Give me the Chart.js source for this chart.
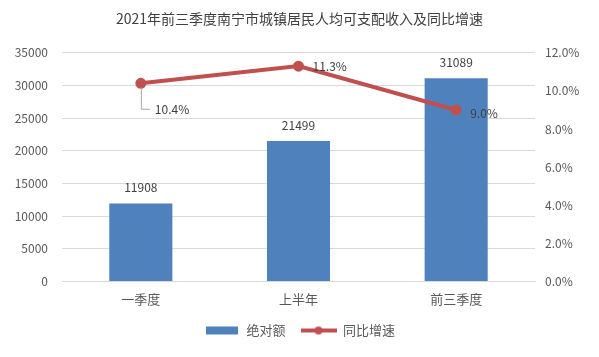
<!DOCTYPE html>
<html>
<head>
<meta charset="utf-8">
<script src="https://cdn.jsdelivr.net/npm/chart.js@4/dist/chart.umd.min.js"></script>
<style>
    html, body { margin: 0; padding: 0; background: #ffffff; }
    #wrap { width: 599px; height: 357px; }
</style>
</head>
<body>
<div id="wrap"><canvas id="chart"></canvas></div>
<script>
// ===== data =====
const categories = ['一季度', '上半年', '前三季度'];
const incomeValues = [11908, 21499, 31089];
const growthValues = [10.4, 11.3, 9.0];
const leftTicks = [0, 5000, 10000, 15000, 20000, 25000, 30000, 35000];
const rightTicks = [0, 2, 4, 6, 8, 10, 12];

const FONT = "'Microsoft YaHei', 'Noto Sans CJK SC', sans-serif";
const TEXT = '#595959';
const BLUE = '#4f81bd';
const RED = '#c0504d';

// legend swatches drawn on small canvases
function makeSwatch(kind) {
    const c = document.createElement('canvas');
    c.width = 36;
    c.height = 10;
    const g = c.getContext('2d');
    if (kind === 'bar') {
        g.fillStyle = BLUE;
        g.fillRect(2, 1, 32, 8);
    } else {
        g.strokeStyle = RED;
        g.lineWidth = 4;
        g.beginPath();
        g.moveTo(0, 5);
        g.lineTo(36, 5);
        g.stroke();
        g.fillStyle = RED;
        g.beginPath();
        g.arc(18, 5, 4, 0, Math.PI * 2);
        g.fill();
    }
    return c;
}

// labels on bars and line points
const labelPlugin = {
    id: 'valueLabels',
    afterDatasetsDraw(chart) {
        const ctx = chart.ctx;
        ctx.save();
        ctx.font = '12px ' + FONT;
        ctx.fillStyle = '#404040';

        const bars = chart.getDatasetMeta(0).data;
        ctx.textAlign = 'center';
        ctx.textBaseline = 'middle';
        bars.forEach((bar, i) => {
            ctx.fillText(String(incomeValues[i]), bar.x, bar.y - 16);
        });

        const pts = chart.getDatasetMeta(1).data;
        ctx.textAlign = 'left';
        pts.forEach((p, i) => {
            const txt = growthValues[i].toFixed(1) + '%';
            if (i === 0) {
                ctx.strokeStyle = '#a6a6a6';
                ctx.lineWidth = 1;
                ctx.beginPath();
                ctx.moveTo(p.x + 0.5, p.y + 4);
                ctx.lineTo(p.x + 0.5, p.y + 26);
                ctx.lineTo(p.x + 9, p.y + 26);
                ctx.stroke();
                ctx.fillText(txt, p.x + 14, p.y + 26);
            } else if (i === 1) {
                ctx.fillText(txt, p.x + 14, p.y);
            } else {
                ctx.fillText(txt, p.x + 14, p.y + 3);
            }
        });
        ctx.restore();
    }
};

new Chart(document.getElementById('chart'), {
    data: {
        labels: categories,
        datasets: [
            {
                type: 'bar',
                label: '绝对额',
                data: incomeValues,
                backgroundColor: BLUE,
                yAxisID: 'y',
                barPercentage: 0.8,
                categoryPercentage: 0.5,
                order: 2
            },
            {
                type: 'line',
                label: '同比增速',
                data: growthValues,
                borderColor: RED,
                backgroundColor: RED,
                borderWidth: 4,
                pointRadius: 3.5,
                pointBackgroundColor: RED,
                pointBorderColor: RED,
                yAxisID: 'y1',
                order: 1
            }
        ]
    },
    options: {
        responsive: true,
        maintainAspectRatio: false,
        animation: false,
        layout: { padding: { top: 3, bottom: 10, left: 0, right: 0 } },
        plugins: {
            title: {
                display: true,
                text: '2021年前三季度南宁市城镇居民人均可支配收入及同比增速',
                color: '#404040',
                font: { size: 14, family: FONT, weight: 'normal' },
                padding: { top: 7, bottom: 26 }
            },
            legend: {
                position: 'bottom',
                labels: {
                    color: TEXT,
                    font: { size: 13, family: FONT },
                    usePointStyle: true,
                    pointStyleWidth: 36,
                    padding: 15,
                    generateLabels() {
                        return [
                            { text: '绝对额', pointStyle: makeSwatch('bar'), fillStyle: BLUE, strokeStyle: BLUE, lineWidth: 0, datasetIndex: 0, fontColor: TEXT },
                            { text: '同比增速', pointStyle: makeSwatch('line'), fillStyle: RED, strokeStyle: RED, lineWidth: 0, datasetIndex: 1, fontColor: TEXT }
                        ];
                    }
                }
            },
            tooltip: { enabled: false }
        },
        scales: {
            x: {
                grid: { display: false },
                border: { color: '#d9d9d9' },
                ticks: { color: TEXT, font: { size: 13, family: FONT }, padding: 2 }
            },
            y: {
                position: 'left',
                min: 0,
                max: 35000,
                afterBuildTicks(axis) { axis.ticks = leftTicks.map(v => ({ value: v })); },
                afterFit(axis) { axis.width = 62; },
                grid: { color: '#d9d9d9', drawTicks: false },
                border: { display: false },
                ticks: {
                    color: TEXT,
                    font: { size: 12, family: FONT },
                    padding: 14,
                    callback: v => String(v)
                }
            },
            y1: {
                position: 'right',
                min: 0,
                max: 12,
                afterBuildTicks(axis) { axis.ticks = rightTicks.map(v => ({ value: v })); },
                afterFit(axis) { axis.width = 64; },
                grid: { display: false, drawTicks: false },
                border: { display: false },
                ticks: {
                    color: TEXT,
                    font: { size: 12, family: FONT },
                    padding: 10,
                    callback: v => v.toFixed(1) + '%'
                }
            }
        }
    },
    plugins: [labelPlugin]
});
</script>
</body>
</html>
